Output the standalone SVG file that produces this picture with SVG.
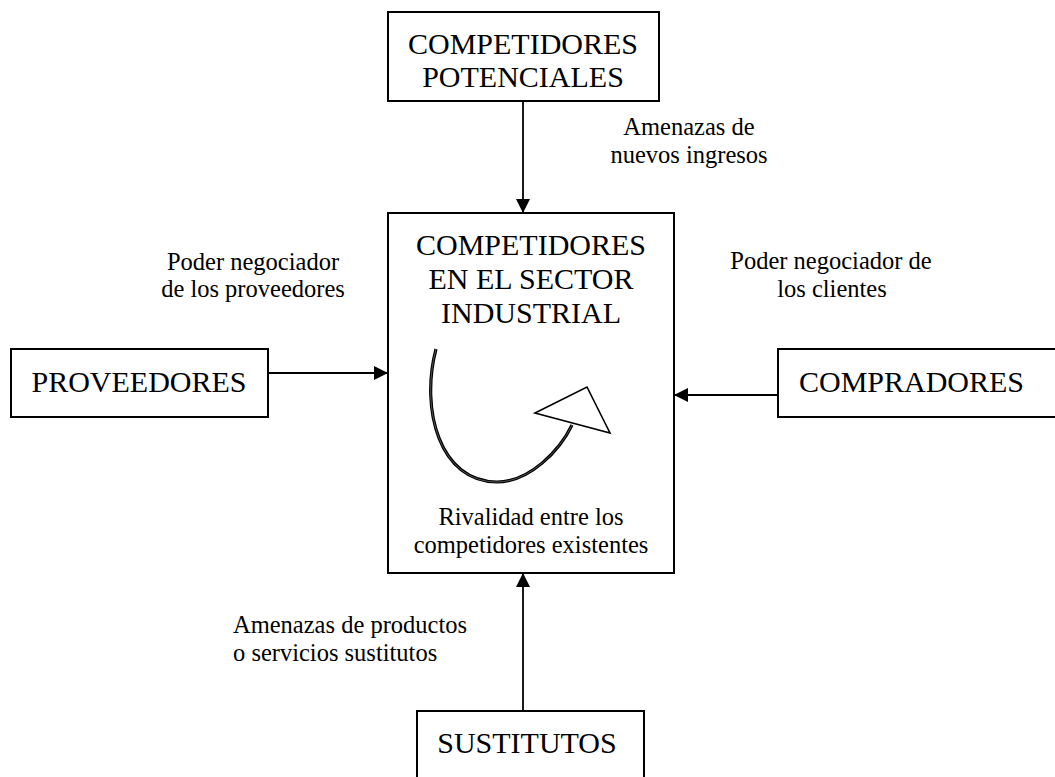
<svg xmlns="http://www.w3.org/2000/svg" width="1055" height="777" viewBox="0 0 1055 777">
<style>
.box{fill:#fff;stroke:#000;stroke-width:2}
.big{font-family:"Liberation Serif","Times New Roman",serif;font-size:30px;fill:#000}
.lbl{font-family:"Liberation Serif","Times New Roman",serif;font-size:24.5px;fill:#000}
.conn{stroke:#000;stroke-width:1.8;fill:none}
</style>
<defs>
<marker id="ah" viewBox="0 0 14 14" refX="14" refY="7" markerWidth="14" markerHeight="14" markerUnits="userSpaceOnUse" orient="auto">
<path d="M0,0 L14,7 L0,14 Z" fill="#000"/>
</marker>
</defs>
<rect width="1055" height="777" fill="#fff"/>
<g id="connectors">
<line class="conn" x1="523" y1="101" x2="523" y2="213" marker-end="url(#ah)"/>
<line class="conn" x1="268" y1="373" x2="388" y2="373" marker-end="url(#ah)"/>
<line class="conn" x1="778" y1="395" x2="674" y2="395" marker-end="url(#ah)"/>
<line class="conn" x1="523" y1="711" x2="523" y2="573" marker-end="url(#ah)"/>
</g>
<g id="potenciales">
<rect class="box" x="388" y="12" width="271" height="89"/>
<text class="big" x="523" y="54" text-anchor="middle">COMPETIDORES</text>
<text class="big" x="523" y="87" text-anchor="middle">POTENCIALES</text>
</g>
<g id="sector">
<rect class="box" x="388" y="213" width="286" height="360"/>
<text class="big" x="531" y="255" text-anchor="middle">COMPETIDORES</text>
<text class="big" x="531" y="289" text-anchor="middle">EN EL SECTOR</text>
<text class="big" x="531" y="323" text-anchor="middle">INDUSTRIAL</text>
<path d="M436,349 C 420,410 440,482 497,482 C 530,482 560,450 572,425" fill="none" stroke="#000" stroke-width="3.2"/>
<path d="M436,349 C 420,410 440,482 497,482 C 530,482 560,450 572,425" fill="none" stroke="#777" stroke-width="0.7"/>
<polygon points="535,413 587,387 610,433" fill="#fff" stroke="#000" stroke-width="1.6" stroke-linejoin="miter"/>
<text class="lbl" x="531" y="525" text-anchor="middle">Rivalidad entre los</text>
<text class="lbl" x="531" y="553" text-anchor="middle">competidores existentes</text>
</g>
<g id="proveedores">
<rect class="box" x="11" y="349" width="257" height="68"/>
<text class="big" x="139" y="392" text-anchor="middle">PROVEEDORES</text>
</g>
<g id="compradores">
<rect class="box" x="778" y="349" width="300" height="68"/>
<text class="big" x="799" y="392">COMPRADORES</text>
</g>
<g id="sustitutos">
<rect class="box" x="417" y="711" width="227" height="90"/>
<text class="big" x="527" y="753" text-anchor="middle">SUSTITUTOS</text>
</g>
<g id="labels">
<text class="lbl" x="689" y="135" text-anchor="middle">Amenazas de</text>
<text class="lbl" x="689" y="163" text-anchor="middle">nuevos ingresos</text>
<text class="lbl" x="253" y="270" text-anchor="middle">Poder negociador</text>
<text class="lbl" x="253" y="297" text-anchor="middle">de los proveedores</text>
<text class="lbl" x="831" y="269" text-anchor="middle">Poder negociador de</text>
<text class="lbl" x="832" y="297" text-anchor="middle">los clientes</text>
<text class="lbl" x="233" y="633">Amenazas de productos</text>
<text class="lbl" x="233" y="661">o servicios sustitutos</text>
</g>
</svg>
